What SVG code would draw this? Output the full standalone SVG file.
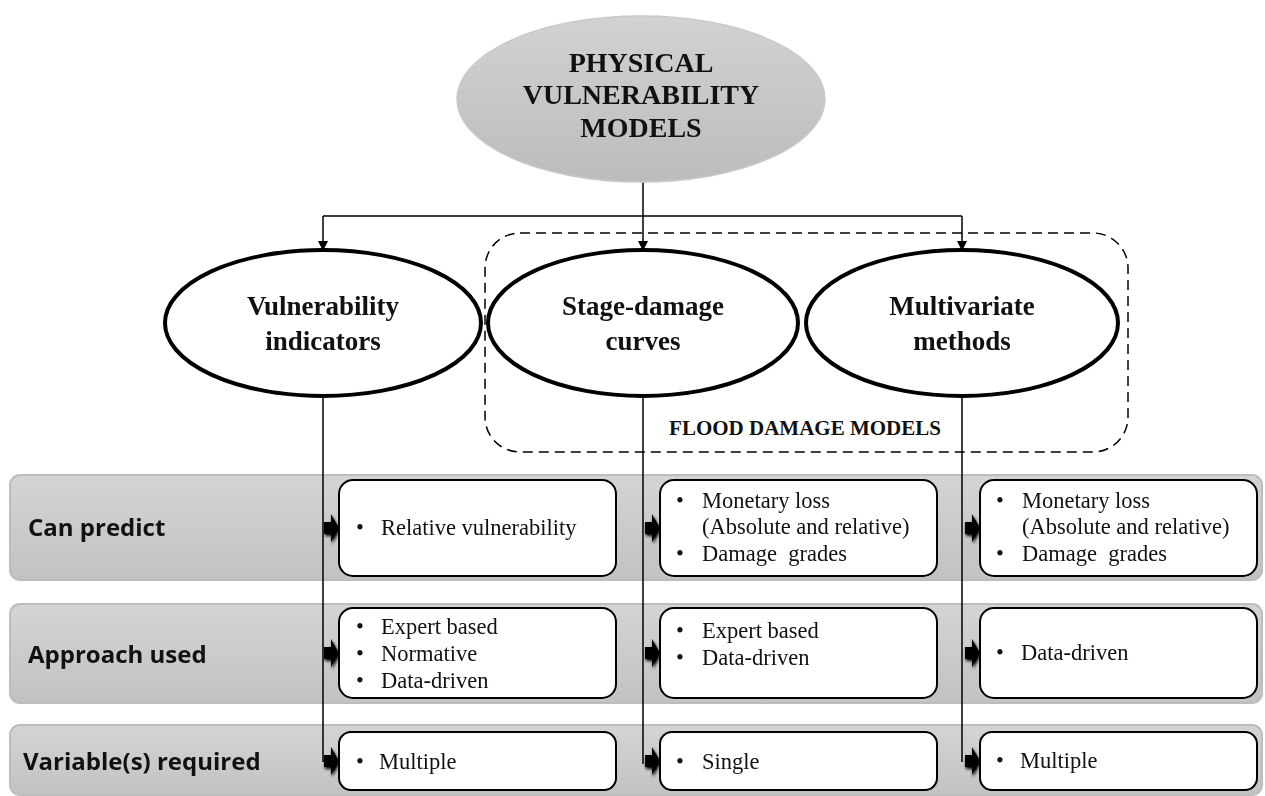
<svg xmlns="http://www.w3.org/2000/svg" width="1265" height="796" viewBox="0 0 1265 796">
<defs>
<linearGradient id="topg" x1="0" y1="0" x2="0" y2="1">
<stop offset="0" stop-color="#d2d2d2"/>
<stop offset="1" stop-color="#bcbcbc"/>
</linearGradient>
<linearGradient id="bandg" x1="0" y1="0" x2="0" y2="1">
<stop offset="0" stop-color="#d4d4d4"/>
<stop offset="1" stop-color="#c2c2c2"/>
</linearGradient>
<marker id="ah" markerWidth="10" markerHeight="10" refX="9" refY="5" orient="auto" markerUnits="userSpaceOnUse">
<path d="M0,0 L10,5 L0,10 Z" fill="#000"/>
</marker>
<filter id="sh" x="-50%" y="-50%" width="200%" height="200%">
<feGaussianBlur in="SourceAlpha" stdDeviation="1.5"/>
<feOffset dx="1" dy="2" result="b"/>
<feMerge><feMergeNode in="b"/><feMergeNode in="SourceGraphic"/></feMerge>
</filter>
<path id="pa" d="M-15,-6 L-8,-6 L-8,-14 L0,0 L-8,14 L-8,6 L-15,6 Z"/>
</defs>
<style>
.band{fill:url(#bandg);stroke:#bdbdbd;stroke-width:2}
.box{fill:#fff;stroke:#000;stroke-width:2}
.oval{fill:#fff;stroke:#000;stroke-width:4}
.lbl{font-family:"Open Sans","Liberation Sans",sans-serif;font-weight:bold;font-size:24px;fill:#111}
.tt{font-family:"Liberation Serif","Times New Roman",serif;font-weight:bold;fill:#111;text-anchor:middle}
.bt{font-family:"Liberation Serif","Times New Roman",serif;font-size:22.5px;fill:#111;white-space:pre}
.ln{stroke:#000;stroke-width:1.5;fill:none}
.ptr{fill:#000}
</style>

<g id="row-bands">
<rect class="band" x="10" y="475" width="1252" height="105" rx="10"/>
<rect class="band" x="10" y="604" width="1252" height="99" rx="10"/>
<rect class="band" x="10" y="725" width="1252" height="70" rx="10"/>
</g>

<g id="flood-damage-models">
<rect x="485" y="233" width="643" height="219" rx="35" fill="none" stroke="#000" stroke-width="1.5" stroke-dasharray="10 6"/>
<text class="tt" x="805" y="435" font-size="21">FLOOD DAMAGE MODELS</text>
</g>

<g id="connectors">
<path class="ln" d="M643,182 V216"/>
<path class="ln" d="M323,216 H962"/>
<path class="ln" d="M323,216 V250" marker-end="url(#ah)"/>
<path class="ln" d="M643,216 V250" marker-end="url(#ah)"/>
<path class="ln" d="M962,216 V250" marker-end="url(#ah)"/>
<path class="ln" d="M323,396 V762"/>
<path class="ln" d="M643,396 V764"/>
<path class="ln" d="M962,396 V762"/>
<g filter="url(#sh)" class="ptr">
<use href="#pa" x="339" y="528"/>
<use href="#pa" x="660" y="528"/>
<use href="#pa" x="980" y="528"/>
<use href="#pa" x="339" y="653"/>
<use href="#pa" x="660" y="653"/>
<use href="#pa" x="980" y="653"/>
<use href="#pa" x="339" y="761"/>
<use href="#pa" x="660" y="761"/>
<use href="#pa" x="980" y="761"/>
</g>
</g>

<g id="physical-vulnerability-models">
<ellipse cx="641" cy="99" rx="184" ry="83" fill="url(#topg)" stroke="#c9c9c9" stroke-width="1.5"/>
<text class="tt" font-size="28"><tspan x="641" y="72">PHYSICAL</tspan><tspan x="641" y="104">VULNERABILITY</tspan><tspan x="641" y="137">MODELS</tspan></text>
</g>

<g id="vulnerability-indicators">
<ellipse class="oval" cx="323" cy="323" rx="158" ry="73"/>
<text class="tt" font-size="27"><tspan x="323" y="315">Vulnerability</tspan><tspan x="323" y="350">indicators</tspan></text>
</g>

<g id="stage-damage-curves">
<ellipse class="oval" cx="643" cy="323" rx="155" ry="73"/>
<text class="tt" font-size="27"><tspan x="643" y="315">Stage-damage</tspan><tspan x="643" y="350">curves</tspan></text>
</g>

<g id="multivariate-methods">
<ellipse class="oval" cx="962" cy="323" rx="156" ry="73"/>
<text class="tt" font-size="27"><tspan x="962" y="315">Multivariate</tspan><tspan x="962" y="350">methods</tspan></text>
</g>

<g id="row-labels">
<text class="lbl" x="28" y="536">Can predict</text>
<text class="lbl" x="28" y="663">Approach used</text>
<text class="lbl" x="23" y="770">Variable(s) required</text>
</g>

<g id="vi-can-predict">
<rect class="box" x="339" y="480" width="277" height="96" rx="14"/>
<text class="bt"><tspan x="356" y="535">•</tspan><tspan x="381" y="535">Relative vulnerability</tspan></text>
</g>
<g id="sd-can-predict">
<rect class="box" x="660" y="480" width="277" height="96" rx="14"/>
<text class="bt"><tspan x="676" y="508">•</tspan><tspan x="702" y="508">Monetary loss</tspan><tspan x="702" y="534">(Absolute and relative)</tspan><tspan x="676" y="561">•</tspan><tspan x="702" y="561">Damage  grades</tspan></text>
</g>
<g id="mm-can-predict">
<rect class="box" x="980" y="480" width="277" height="96" rx="14"/>
<text class="bt"><tspan x="996" y="508">•</tspan><tspan x="1022" y="508">Monetary loss</tspan><tspan x="1022" y="534">(Absolute and relative)</tspan><tspan x="996" y="561">•</tspan><tspan x="1022" y="561">Damage  grades</tspan></text>
</g>

<g id="vi-approach">
<rect class="box" x="339" y="608" width="277" height="90" rx="14"/>
<text class="bt"><tspan x="356" y="634">•</tspan><tspan x="381" y="634">Expert based</tspan><tspan x="356" y="661">•</tspan><tspan x="381" y="661">Normative</tspan><tspan x="356" y="688">•</tspan><tspan x="381" y="688">Data-driven</tspan></text>
</g>
<g id="sd-approach">
<rect class="box" x="660" y="608" width="277" height="90" rx="14"/>
<text class="bt"><tspan x="676" y="638">•</tspan><tspan x="702" y="638">Expert based</tspan><tspan x="676" y="665">•</tspan><tspan x="702" y="665">Data-driven</tspan></text>
</g>
<g id="mm-approach">
<rect class="box" x="980" y="608" width="277" height="90" rx="14"/>
<text class="bt"><tspan x="996" y="660">•</tspan><tspan x="1021" y="660">Data-driven</tspan></text>
</g>

<g id="vi-variables">
<rect class="box" x="339" y="732" width="277" height="58" rx="12"/>
<text class="bt"><tspan x="356" y="769">•</tspan><tspan x="379" y="769">Multiple</tspan></text>
</g>
<g id="sd-variables">
<rect class="box" x="660" y="732" width="277" height="58" rx="12"/>
<text class="bt"><tspan x="676" y="769">•</tspan><tspan x="702" y="769">Single</tspan></text>
</g>
<g id="mm-variables">
<rect class="box" x="980" y="732" width="277" height="58" rx="12"/>
<text class="bt"><tspan x="996" y="768">•</tspan><tspan x="1020" y="768">Multiple</tspan></text>
</g>
</svg>
